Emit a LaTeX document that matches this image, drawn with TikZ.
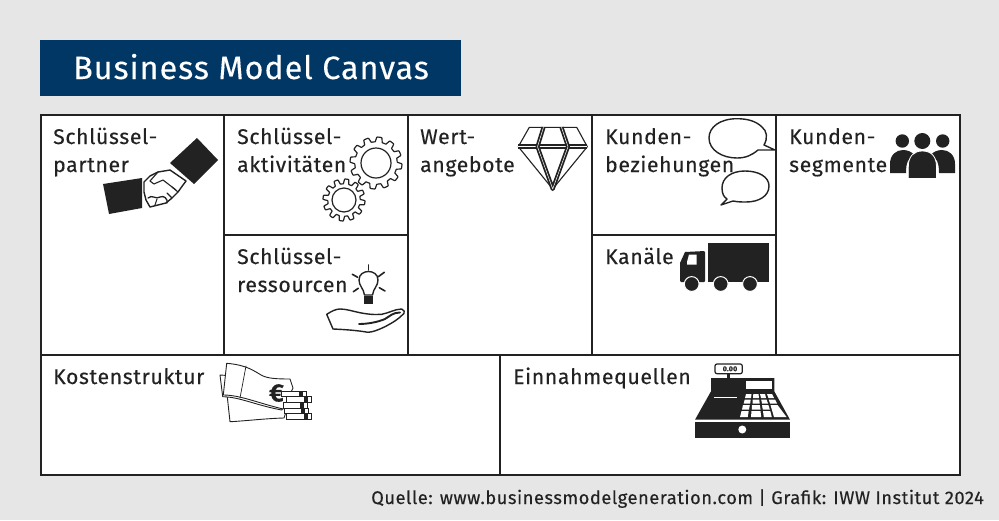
\documentclass[tikz,border=0pt]{standalone}
\usepackage{fontspec}
\setmainfont{Fira Sans}[LetterSpace=3,FakeBold=0.25]
\definecolor{bgc}{HTML}{E6E6E6}
\definecolor{navy}{HTML}{003764}
\definecolor{ink}{HTML}{222222}
\tikzset{
 lbl/.style={anchor=base west,font=\fontsize{21.2}{28}\selectfont,text=ink,align=left,inner sep=0pt},
 grid/.style={draw=ink,line width=1.7pt},
 icon/.style={draw=ink,line width=1.4pt,line join=round,line cap=round},
 thinicon/.style={icon,line width=.9pt},
 coin/.style={draw=ink,line width=.7pt,fill=white},
 ray/.style={icon,line width=1.6pt},
}
\newcommand{\gear}[4]{% cx cy R rinner
 \draw[icon,line width=1.2pt,fill=white] plot[smooth,domain=0:360,samples=217,shift={(#1,#2)}] (\x:{#3-2.4+2.4*max(-1,min(1,2.5*sin(12*\x)))}) -- cycle;
 \draw[icon,line width=1.2pt] (#1,#2) circle[radius=#4];
}
\begin{document}
\begin{tikzpicture}[x=1pt,y=-1pt]
\useasboundingbox (0,0) rectangle (999,520);
\fill[bgc] (0,0) rectangle (999,520);
\fill[navy] (40,40) rectangle (461,96);
\node[anchor=base west,text=white,inner sep=0pt,font=\fontsize{32.3}{36}\selectfont] (title) at (73,79) {Business Model Canvas};
\fill[white] (41,115) rectangle (960,475);
\draw[grid] (41,115) rectangle (960,475);
\draw[grid] (41,355) -- (960,355);
\foreach \x in {224,408,592,776} \draw[grid] (\x,115) -- (\x,355);
\draw[grid] (500,355) -- (500,475);
\draw[grid] (224,235) -- (408,235);
\draw[grid] (592,235) -- (776,235);

\node[lbl] (a) at (53,172) {Schlüssel-\\partner};
\node[lbl] (b) at (237,172) {Schlüssel-\\aktivitäten};
\node[lbl] (c) at (237,292) {Schlüssel-\\ressourcen};
\node[lbl] (d) at (420,172) {Wert-\\angebote};
\node[lbl] (e) at (605,172) {Kunden-\\beziehungen};
\node[lbl] (f) at (605,264) {Kanäle};
\node[lbl] (g) at (789,172) {Kunden-\\segmente};
\node[lbl] (h) at (53,384) {Kostenstruktur};
\node[lbl] (i) at (513,384) {Einnahmequellen};
\node[anchor=base east,inner sep=0pt,text=ink,font=\fontsize{18.27}{20}\selectfont] (src) at (984,504) {Quelle: www.businessmodelgeneration.com | Grafik: IWW Institut 2024};

% handshake
\fill[ink] (197,138) -- (218,160) -- (194,184) -- (170,163) -- cycle;
\fill[ink] (103,184) -- (142,178) -- (142,208) -- (109,214) -- cycle;
\draw[icon] (144,182) -- (150,176) -- (158,172) -- (170,170) -- (186,181) -- (183,185) -- (178,192) -- (172,198) -- (166,203) -- (158,205) -- (150,207) -- (146,200) -- (144,192) -- cycle;
\draw[thinicon,line width=1.1pt] (158,172) -- (150,181) -- (154,184) -- (163,180) -- (176,190);
\draw[thinicon,line width=1.3pt] (148,198) .. controls (152,194) and (156,200) .. (160,197) .. controls (164,195) and (168,199) .. (167,203);
\draw[thinicon,line width=1.1pt] (155,205) -- (157,199);
\draw[thinicon,line width=1.1pt] (172,198) -- (167,193);
\draw[thinicon,line width=1.1pt] (178,192) -- (172,187);

% gears
\gear{376}{163}{26}{15}
\gear{344}{200}{21}{12}

% bulb
\draw[icon] (364.5,295) .. controls (363.5,288) and (359,286) .. (359,280) .. controls (359,274) and (364,271.5) .. (368.5,271.5) .. controls (373,271.5) and (378,274) .. (378,280) .. controls (378,286) and (373.5,288) .. (372.5,295) -- cycle;
\fill[ink] (364,296) rectangle (372.5,304.3);
\draw[ray] (368.3,265) -- (368.3,270);
\draw[ray] (352.3,274.3) -- (357.7,277.3);
\draw[ray] (384.3,272.3) -- (378.3,276.7);
\draw[ray] (353.3,291.7) -- (358.3,288.3);
\draw[ray] (385,291) -- (379.3,287.7);
% hand
\draw[icon] (326.7,314.3) .. controls (332,311) and (336,309) .. (340,309) .. controls (346,309) and (352,311) .. (358,312.3) .. controls (366,314) and (374,315) .. (381.7,314.3) .. controls (389,313) and (395,309) .. (401.7,309) .. controls (404,310) and (405,312) .. (404,313.3) .. controls (399,319) and (392,323) .. (385,326.7) .. controls (378,330) and (373,332) .. (368,332.3) .. controls (358,330.5) and (345,329.5) .. (333,329) -- cycle;
\draw[icon,line width=1.9pt] (359,324) .. controls (368,324) and (378,322) .. (385,319) .. controls (390,316) and (393,312.5) .. (400,312.5);

% diamond
\draw[icon,line width=1.1pt] (529.3,127.3) -- (576.7,127.3) -- (587.3,146.7) -- (552.7,189) -- (518.3,146.7) -- cycle;
\draw[ink,line width=2.4pt,double=white,double distance=.5pt,line join=round] (518.3,146.7) -- (587.3,146.7);
\draw[ink,line width=1.8pt,double=white,double distance=.5pt,line join=round] (543.5,127.3) -- (537.5,146.7) -- (552.7,189) -- (568,146.7) -- (561.5,127.3);

% bubbles
\draw[icon] (764,145) .. controls (768,138) and (767,131) .. (762,127) .. controls (756,121) and (747,118.7) .. (737,118.7) .. controls (720,118.7) and (709,127) .. (709,138) .. controls (709,150) and (722,158) .. (737,158) .. controls (746,158) and (752,155) .. (758,150) -- (775,150) -- cycle;
\draw[icon] (745,171) .. controls (731,171) and (722,178) .. (722,188) .. controls (722,194) and (724,197) .. (727,199) -- (721,205) -- (733,201) .. controls (738,202) and (742,202) .. (746,202) .. controls (759,202) and (769,196) .. (769,186) .. controls (769,177) and (759,171) .. (745,171) -- cycle;

% truck
\fill[ink] (707.7,243.3) rectangle (768.7,282.3);
\fill[ink] (680,282) -- (680,263) -- (685,252) [rounded corners=1pt] -- (705,251) -- (705,282) -- cycle;
\fill[white] (687,262) -- (689,254.5) -- (696.5,254.5) -- (696.5,264.5) -- (687,264.5) -- cycle;
\foreach \x in {691.7,720.7,750} \filldraw[fill=ink,draw=white,line width=1pt] (\x,284) circle[radius=7.4];

% people
\fill[ink] (902.3,141) circle[radius=6.7] (942.7,141) circle[radius=6.7];
\fill[ink] (890,173) -- (890,164) .. controls (890,155) and (896,150) .. (903,150) .. controls (908,150) and (912,152) .. (914,155) .. controls (908,158) and (906,163) .. (906,173) -- cycle;
\fill[ink] (955,173) -- (955,164) .. controls (955,155) and (949,150) .. (942,150) .. controls (937,150) and (933,152) .. (931,155) .. controls (937,158) and (939,163) .. (939,173) -- cycle;
\draw[fill=ink,draw=white,line width=.8pt] (908.3,178.5) -- (908.3,167) .. controls (908.3,156) and (914,151) .. (922.3,151) .. controls (931,151) and (936.5,156) .. (936.5,167) -- (936.5,178.5) -- cycle;
\fill[ink] (922.3,141) circle[radius=8];

% money
\draw[thinicon,fill=white] (226,385) -- (230,421.7) .. controls (245,421) and (265,418.5) .. (284,418) -- (290,400) -- cycle;
\draw[thinicon,fill=white] (220,375) -- (222.7,396.7) .. controls (240,397) and (255,405) .. (281.7,410) -- (292,395) -- (265,378) -- cycle;
\draw[thinicon,fill=white] (226.7,363.3) -- (223.3,395) .. controls (240,395) and (258,403) .. (283,409) -- (293,388) -- (290,379) .. controls (277,379) and (268,378.5) .. (262,375.5) .. controls (254,371) and (247,365) .. (226.7,363.3) -- cycle;
\draw[thinicon,line width=.7pt] (246,366) -- (240,398);
\node[anchor=center,inner sep=0pt,font=\fontsize{25}{25}\bfseries\selectfont,text=ink] (euro) at (276.5,393) {€};
\foreach \xa/\ya/\yb in {281.7/391/396.7,286.7/396.7/402.7,283.3/402.7/408.3,284/408.3/413.3,286.7/413.3/419}{
 \draw[coin] (\xa,\ya) rectangle (\xa+24.5,\yb);
 \fill[ink] (\xa+17,\ya) rectangle (\xa+21,\yb);
}

% register
\draw[icon,line width=1.2pt,rounded corners=2pt] (715,364) rectangle (742.3,373.7);
\node[anchor=center,inner sep=0pt,font=\fontsize{7}{7}\bfseries\selectfont,text=ink] (disp) at (730,368.8) {0.00};
\fill[ink] (726.7,373.7) rectangle (730,378);
\fill[ink] (711,378) -- (774.3,378) -- (774.3,391.3) -- (790,419.7) -- (695,419.7) -- (711,391.3) -- cycle;
\fill[ink] (695,421.5) rectangle (790,438);
\fill[white] (746,380.7) rectangle (772.3,389);
\fill[white] (714.3,396.7) rectangle (737.3,398);
\fill[white] (746,394) -- (751.5,394) -- (751,398) -- (745,398) -- cycle;
\fill[white] (753.3,394) -- (758.5,394) -- (759,398) -- (753,398) -- cycle;
\fill[white] (760,394) -- (765,394) -- (766,398) -- (761,398) -- cycle;
\fill[white] (767,394) -- (772,394) -- (774,398) -- (768.5,398) -- cycle;
\fill[white] (744.7,399.5) -- (750.7,399.5) -- (750.2,403.5) -- (743.7,403.5) -- cycle;
\fill[white] (752.7,399.5) -- (759.2,399.5) -- (759.7,403.5) -- (752.5,403.5) -- cycle;
\fill[white] (761.2,399.5) -- (766.6,399.5) -- (768,403.5) -- (762,403.5) -- cycle;
\fill[white] (768.7,399.5) -- (775,399.5) -- (777,403.5) -- (770,403.5) -- cycle;
\fill[white] (743,405) -- (749.8,405) -- (749,409.5) -- (742,409.5) -- cycle;
\fill[white] (752,405) -- (759.8,405) -- (760.5,409.5) -- (751.8,409.5) -- cycle;
\fill[white] (762,405) -- (768.4,405) -- (769.8,409.5) -- (762.8,409.5) -- cycle;
\fill[white] (741.5,411) -- (748.7,411) -- (747.7,417) -- (740,417) -- cycle;
\fill[white] (751.5,411) -- (760.5,411) -- (761.2,417) -- (751,417) -- cycle;
\fill[white] (763,411) -- (770.3,411) -- (771.8,417) -- (763.8,417) -- cycle;
\fill[white] (770.5,405) -- (777.5,405) -- (786.5,417) -- (774,417) -- cycle;
\fill[white] (742.3,429.5) circle[radius=4];
\end{tikzpicture}
\end{document}
